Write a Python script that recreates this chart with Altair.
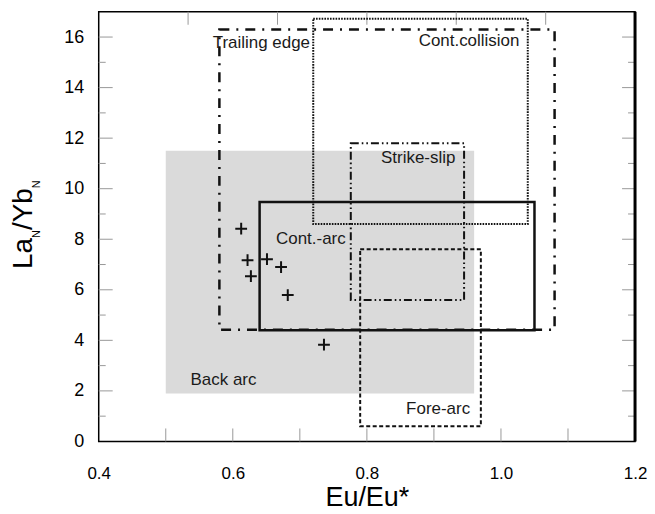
import altair as alt
import pandas as pd

# ---------------- data ----------------
box_names = ["Back arc", "Trailing edge", "Cont.collision", "Strike-slip", "Cont.-arc", "Fore-arc"]
box_x1 = [0.50, 0.58, 0.72, 0.776, 0.64, 0.79]
box_x2 = [0.96, 1.08, 1.04, 0.945, 1.05, 0.97]
box_y1 = [1.9, 4.42, 8.6, 5.6, 4.4, 0.6]
box_y2 = [11.5, 16.3, 16.72, 11.8, 9.47, 7.6]

sample_x = [0.6125, 0.622, 0.627, 0.651, 0.672, 0.682, 0.736]
sample_y = [8.42, 7.17, 6.54, 7.21, 6.90, 5.79, 3.83]

left_labels = ["Trailing edge", "Cont.-arc", "Back arc"]
left_label_x = [0.570, 0.6645, 0.537]
left_label_y = [15.57, 7.83, 2.24]

right_labels = ["Cont.collision", "Strike-slip", "Fore-arc"]
right_label_x = [1.0275, 0.932, 0.954]
right_label_y = [15.63, 11.03, 1.07]

x_label_values = [0.4, 0.6, 0.8, 1.0, 1.2]
x_tick_values = [0.5, 0.6, 0.7, 0.8, 0.9, 1.0, 1.1]
x_top_tick_values = [0.5333, 0.6667, 0.8, 0.9333, 1.0667]
y_major_values = [0, 2, 4, 6, 8, 10, 12, 14, 16]
y_minor_values = [1, 3, 5, 7, 9, 11, 13, 15]

# ---------------- styles ----------------
W, H = 538, 431
FONT = "Liberation Sans"
box_styles = {
    "Trailing edge": dict(strokeDash=[10, 7, 2, 7], strokeWidth=2.5),
    "Cont.collision": dict(strokeDash=[1.6, 1.2], strokeWidth=2),
    "Strike-slip": dict(strokeDash=[8, 3, 1.6, 3, 1.6, 3], strokeWidth=2),
    "Cont.-arc": dict(strokeWidth=2.5),
    "Fore-arc": dict(strokeDash=[4, 2.5], strokeWidth=2),
}

xscale = alt.Scale(domain=[0.4, 1.2], nice=False, zero=False)
yscale = alt.Scale(domain=[0, 17], nice=False, zero=False)
xaxis = alt.Axis(values=x_label_values, format=".1f", ticks=False, tickSize=0, domain=False,
                 grid=False, labelPadding=24, labelFontSize=17, labelFont=FONT,
                 labelFlush=False, labelOverlap=False,
                 labelColor="black", title="Eu/Eu*", titleFont=FONT, titleFontSize=27,
                 titleFontWeight="normal", titleColor="black", titleBaseline="alphabetic",
                 titleY=64)
yaxis = alt.Axis(values=y_major_values, format="d", ticks=False, tickSize=0, domain=False,
                 grid=False, labelPadding=15, labelFontSize=18, labelFont=FONT,
                 labelFlush=False, labelOverlap=False,
                 labelColor="black", title="")


def X(f):
    return alt.X(f, type="quantitative", scale=xscale, axis=xaxis)


def Y(f):
    return alt.Y(f, type="quantitative", scale=yscale, axis=yaxis)


boxes = pd.DataFrame({"name": box_names, "x1": box_x1, "x2": box_x2, "y1": box_y1, "y2": box_y2})

back = alt.Chart(boxes).transform_filter(alt.datum.name == "Back arc").mark_rect(
    color="#dadada").encode(x=X("x1"), x2="x2", y=Y("y1"), y2="y2")

layers = [back]

# inward ticks
tick_color = "#999999"
xt = pd.DataFrame({"t": x_tick_values})
xtt = pd.DataFrame({"t": x_top_tick_values})
ymaj = pd.DataFrame({"t": y_major_values[1:]})
ymin = pd.DataFrame({"t": y_minor_values})
layers.append(alt.Chart(xt).mark_rule(color=tick_color, strokeWidth=1).encode(
    x=X("t"), y=alt.value(H), y2=alt.value(H - 13)))
layers.append(alt.Chart(xtt).mark_rule(color=tick_color, strokeWidth=1).encode(
    x=X("t"), y=alt.value(0), y2=alt.value(13)))
layers.append(alt.Chart(ymaj).mark_rule(color=tick_color, strokeWidth=1).encode(
    y=Y("t"), x=alt.value(0), x2=alt.value(14)))
layers.append(alt.Chart(ymin).mark_rule(color=tick_color, strokeWidth=1).encode(
    y=Y("t"), x=alt.value(0), x2=alt.value(7)))
layers.append(alt.Chart(ymaj).mark_rule(color=tick_color, strokeWidth=1).encode(
    y=Y("t"), x=alt.value(W), x2=alt.value(W - 13)))
layers.append(alt.Chart(ymin).mark_rule(color=tick_color, strokeWidth=1).encode(
    y=Y("t"), x=alt.value(W), x2=alt.value(W - 7)))

for name, st in box_styles.items():
    layers.append(alt.Chart(boxes).transform_filter(alt.datum.name == name).mark_rect(
        fillOpacity=0, stroke="#111111", **st).encode(x=X("x1"), x2="x2", y=Y("y1"), y2="y2"))

pts = pd.DataFrame({"x": sample_x, "y": sample_y})
layers.append(alt.Chart(pts).mark_point(
    shape="M-1,0H1M0,-1V1", size=140, strokeWidth=2, color="#111111", filled=False, opacity=1
).encode(x=X("x"), y=Y("y")))

ll = pd.DataFrame({"t": left_labels, "x": left_label_x, "y": left_label_y})
rl = pd.DataFrame({"t": right_labels, "x": right_label_x, "y": right_label_y})
layers.append(alt.Chart(ll).mark_text(align="left", baseline="alphabetic", font=FONT,
                                      fontSize=17, color="#1a1a1a").encode(
    x=X("x"), y=Y("y"), text="t:N"))
layers.append(alt.Chart(rl).mark_text(align="right", baseline="alphabetic", font=FONT,
                                      fontSize=17, color="#1a1a1a").encode(
    x=X("x"), y=Y("y"), text="t:N"))

# y title with subscripts (La_N / Yb_N)
title_parts = ["La", "N", "/Yb", "N"]
title_sizes = [28, 11, 28, 11]
title_px = [-67, -59, -67, -59]
title_py = [258, 226.9, 219, 177]
for txt, fs, px, py in zip(title_parts, title_sizes, title_px, title_py):
    layers.append(alt.Chart(pd.DataFrame({"t": [txt]})).mark_text(
        angle=270, align="left", baseline="alphabetic", font=FONT, fontSize=fs,
        color="black").encode(x=alt.value(px), y=alt.value(py), text="t:N"))

# thicker right frame edge
layers.append(alt.Chart(pd.DataFrame({"t": [0]})).mark_rule(color="black", strokeWidth=3).encode(
    x=alt.value(W), y=alt.value(0), y2=alt.value(H)))

chart = alt.layer(*layers).properties(
    width=W, height=H, autosize="none", background="white",
    padding={"left": 91, "top": 3, "right": 12, "bottom": 72},
).configure_view(stroke="black", strokeWidth=1.5)

chart.save("out.html", embed_options={"renderer": "svg", "actions": False})
